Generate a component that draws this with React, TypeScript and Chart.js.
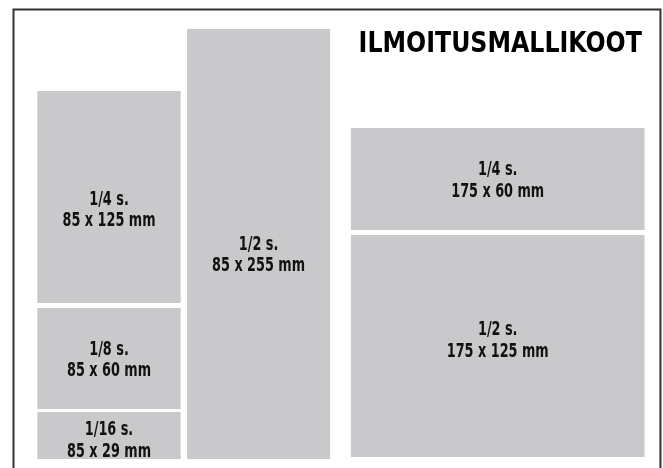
import React, { useEffect, useRef } from "react";
import { Chart, registerables } from "chart.js";

Chart.register(...registerables);

// Ad formats (page units: mm, origin bottom-left of the sheet)
const adNames = ["1/4 s.", "1/8 s.", "1/16 s.", "1/2 s.", "1/4 s.", "1/2 s."];
const adSizes = ["85 x 125 mm", "85 x 60 mm", "85 x 29 mm", "85 x 255 mm", "175 x 60 mm", "175 x 125 mm"];
const adLeft = [22, 22, 22, 110.5, 207.5, 207.5];
const adBottom = [97.6, 34.9, 5.3, 5.3, 140.8, 6.5];
const adWidth = [85, 85, 85, 85, 174, 174];
const adHeight = [125.5, 59.8, 27.8, 254.4, 60.4, 131.4];
// vertical centre of each caption (mm)
const adLabelCenter = [153.6, 64.8, 17.3, 127.0, 171.3, 76.5];
const chartTitle = "ILMOITUSMALLIKOOT";

const PX_PER_MM = 1.69;
const W = 663;
const H = 468;
const FILL = "#c9c9cb";
const LABEL_FONT = "bold 19px 'DejaVu Sans Condensed', 'DejaVu Sans', sans-serif";
const LABEL_SX = 0.75;
const TITLE_FONT = "bold 28px 'DejaVu Sans Condensed', 'DejaVu Sans', sans-serif";
const TITLE_SX = 0.94;

function drawText(ctx: any, text: string, x: number, y: number, sx: number) {
  ctx.save();
  ctx.translate(x, y);
  ctx.scale(sx, 1);
  ctx.fillText(text, 0, 0);
  ctx.restore();
}

const framePlugin = {
  id: "frame",
  beforeDatasetsDraw(chart: any) {
    const { ctx, scales } = chart;
    const x = scales.x;
    const y = scales.y;
    const l = x.getPixelForValue(8.0);
    const r = x.getPixelForValue(390.8);
    const t = y.getPixelForValue(271.3);
    const b = y.getPixelForValue(-5);
    ctx.save();
    ctx.strokeStyle = "#333333";
    ctx.lineWidth = 2;
    ctx.beginPath();
    ctx.moveTo(l, b);
    ctx.lineTo(l, t);
    ctx.lineTo(r, t);
    ctx.lineTo(r, b);
    ctx.stroke();
    ctx.restore();
  },
  afterDatasetsDraw(chart: any) {
    const { ctx, scales } = chart;
    const x = scales.x;
    const y = scales.y;
    ctx.save();
    ctx.fillStyle = "#111111";
    ctx.textAlign = "center";
    ctx.textBaseline = "alphabetic";
    ctx.font = LABEL_FONT;
    for (let i = 0; i < adNames.length; i++) {
      const cx = x.getPixelForValue(adLeft[i] + adWidth[i] / 2);
      const cy = y.getPixelForValue(adLabelCenter[i]);
      drawText(ctx, adNames[i], cx, cy - 3.5, LABEL_SX);
      drawText(ctx, adSizes[i], cx, cy + 18, LABEL_SX);
    }
    ctx.font = TITLE_FONT;
    ctx.textAlign = "right";
    ctx.fillStyle = "#000000";
    drawText(ctx, chartTitle, x.getPixelForValue(379.8), y.getPixelForValue(246.2), TITLE_SX);
    ctx.restore();
  },
};

export default function App() {
  const ref = useRef<HTMLCanvasElement | null>(null);
  useEffect(() => {
    if (!ref.current) return;
    const datasets = adNames.map((n, i) => ({
      label: n + " " + adSizes[i],
      data: [
        { x: adLeft[i], y: adBottom[i] + adHeight[i] },
        { x: adLeft[i] + adWidth[i], y: adBottom[i] + adHeight[i] },
      ],
      fill: { value: adBottom[i] },
      backgroundColor: FILL,
      borderColor: "rgba(0,0,0,0)",
      borderWidth: 0,
      pointRadius: 0,
      pointHoverRadius: 0,
      tension: 0,
    }));
    const chart = new Chart(ref.current, {
      type: "line",
      data: { datasets },
      options: {
        animation: false,
        responsive: false,
        maintainAspectRatio: false,
        layout: { padding: 0 },
        events: [],
        plugins: {
          legend: { display: false },
          tooltip: { enabled: false },
          title: { display: false },
        },
        scales: {
          x: { type: "linear", display: false, min: 0, max: W / PX_PER_MM },
          y: { type: "linear", display: false, min: 0, max: H / PX_PER_MM },
        },
      },
      plugins: [framePlugin],
    });
    return () => chart.destroy();
  }, []);
  return (
    <div style={{ position: "fixed", left: 0, top: 0, width: W, height: H, background: "#ffffff" }}>
      <canvas ref={ref} width={W} height={H} style={{ width: W, height: H, display: "block" }} />
    </div>
  );
}
